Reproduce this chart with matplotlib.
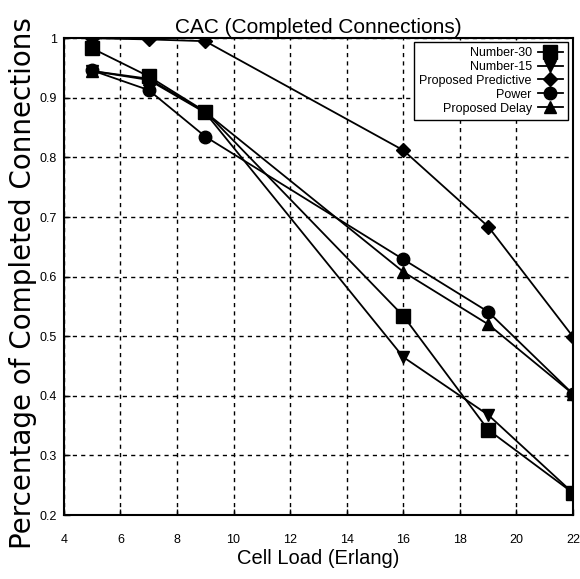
import matplotlib
matplotlib.use("Agg")
import matplotlib.pyplot as plt

load = [5, 7, 9, 16, 19, 22]
number30 = [0.983, 0.936, 0.877, 0.534, 0.343, 0.237]
number15 = [0.945, 0.930, 0.875, 0.465, 0.368, 0.237]
predictive = [1.0, 0.998, 0.995, 0.812, 0.684, 0.499]
power = [0.946, 0.913, 0.835, 0.629, 0.541, 0.403]
delay = [0.945, 0.932, 0.876, 0.608, 0.520, 0.403]

xticks = [4, 6, 8, 10, 12, 14, 16, 18, 20, 22]
yticks = [0.2, 0.3, 0.4, 0.5, 0.6, 0.7, 0.8, 0.9, 1]

narrow = ["Liberation Sans", "DejaVu Sans"]

fig = plt.figure(figsize=(5.8, 5.79), dpi=100)
ax = fig.add_axes([0.110, 0.1105, 0.878, 0.8235])

ax.plot(load, number30, c="black", lw=1.3, marker="s", ms=10, label="Number-30")
ax.plot(load, number15, c="black", lw=1.3, marker="v", ms=9, label="Number-15")
ax.plot(load, predictive, c="black", lw=1.3, marker="D", ms=7, label="Proposed Predictive")
ax.plot(load, power, c="black", lw=1.3, marker="o", ms=9, label="Power")
ax.plot(load, delay, c="black", lw=1.3, marker="^", ms=9, label="Proposed Delay")

ax.set_xlim(4, 22)
ax.set_ylim(0.2, 1)
ax.set_xticks(xticks)
ax.set_yticks(yticks)
ax.set_xticklabels([str(t) for t in xticks], family=narrow, fontsize=9)
ax.set_yticklabels([("%g" % t) for t in yticks], family=narrow, fontsize=9)
ax.tick_params(direction="in", length=4, width=1)
ax.tick_params(axis="x", pad=14)
ax.tick_params(axis="y", pad=5)
ax.grid(True, color="black", linestyle=(0, (3, 3)), linewidth=1)
for s in ax.spines.values():
    s.set_linewidth(1.5)

ax.set_title("CAC (Completed Connections)", family=narrow, fontsize=15, pad=4)
ax.set_xlabel("Cell Load (Erlang)", family=narrow, fontsize=14.5, labelpad=2)
ax.set_ylabel("Percentage of Completed Connections", family="DejaVu Sans", fontsize=20)
ax.yaxis.set_label_coords(-0.053, 0.486)

leg = ax.legend(loc="upper right", markerfirst=False, fancybox=False, framealpha=1,
                edgecolor="black", prop={"family": narrow, "size": 9},
                handlelength=2.0, labelspacing=0.15, borderaxespad=0,
                handletextpad=0.5, bbox_to_anchor=(0.990, 0.992))
leg.get_frame().set_linewidth(1)

fig.savefig("out.png", dpi=100)
